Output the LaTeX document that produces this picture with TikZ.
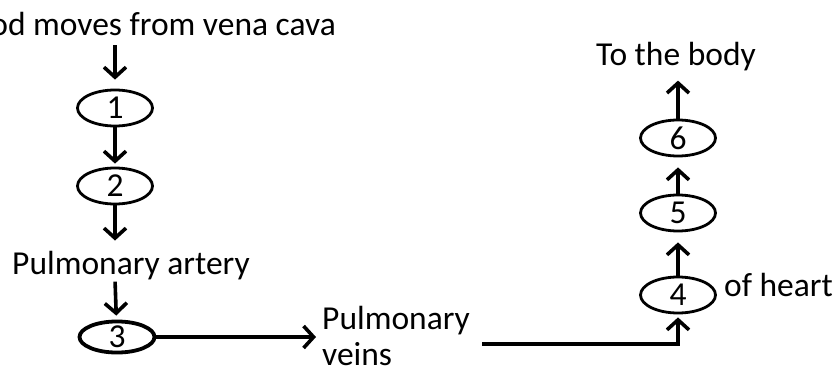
\documentclass[tikz,border=0pt]{standalone}
\usepackage{fontspec}
\setmainfont{Carlito}
\usetikzlibrary{arrows.meta,shapes.geometric,calc}
\newcommand{\lbl}{\fontsize{33.5}{38}\selectfont}
\tikzset{
  blob/.style={ellipse,draw,line width=2.8pt,minimum width=75pt,minimum height=36pt,
               inner sep=0pt,font=\lbl},
  tag/.style={inner sep=0pt,font=\lbl},
  flowe/.style={-{Straight Barb[length=10pt,width=22pt]},line width=3.6pt},
}

\begin{document}
\begin{tikzpicture}[x=1pt,y=-1pt]
  \useasboundingbox (0,0) rectangle (837,375);
  \clip (0,0) rectangle (837,375);

  % ---- left column ----
  \node[tag,anchor=base east] (vena) at (336,35) {Blood moves from vena cava};
  \node[blob] (n1) at (115,108) {1};
  \node[blob] (n2) at (115,186) {2};
  \node[tag,anchor=base west] (art) at (12,274) {Pulmonary artery};
  \node[blob,line width=3.8pt,minimum height=31pt] (n3) at (117,337) {3};
  \node[tag,anchor=north west,align=left] (veins) at (322,306) {Pulmonary\\[-2pt]veins};

  % ---- right column ----
  \node[blob] (n4) at (678,295) {4};
  \node[tag,anchor=base west] (heart) at (724,296) {of heart};
  \node[blob] (n5) at (678,213) {5};
  \node[blob] (n6) at (678,138) {6};
  \node[tag,anchor=base] (body) at (676,65) {To the body};

  % ---- arrows ----
  \draw[flowe,shorten <=10pt,shorten >=9pt] (n1 |- vena.south) -- (n1);
  \draw[flowe,shorten >=3pt] (n1) -- (n2);
  \draw[flowe,shorten >=10pt] (n2) -- (n2 |- art.north);
  \draw[flowe,shorten <=2pt,shorten >=4pt] (n2 |- art.south) -- (n3);
  \draw[flowe,shorten >=6pt] (n3) -- (n3 -| veins.west);
  \draw[flowe,shorten >=3pt] ($(veins.east)+(12,8)$) -| (n4);
  \draw[flowe,shorten >=10pt] (n4) -- (n5);
  \draw[flowe,shorten >=10pt] (n5) -- (n6);
  \draw[flowe,shorten >=10pt] (n6) -- (n6 |- body.south);
\end{tikzpicture}
\end{document}
